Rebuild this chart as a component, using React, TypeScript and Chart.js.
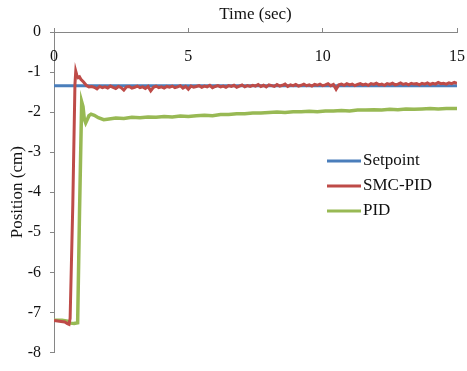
import React, { useEffect, useRef } from "react";
import { Chart, registerables } from "chart.js";

Chart.register(...registerables);

// ---------- data ----------
const xTickStep = 5;
const yTickStep = 1;

const setpointTime = [0, 15];
const setpointPos = [-1.34, -1.34];

const smcTime = [
  0, 0.2, 0.4, 0.5, 0.56, 0.6, 0.7, 0.78, 0.81, 0.85, 0.9, 0.95, 1.0, 1.1, 1.2, 1.3, 1.4,
  1.5, 1.6, 1.7, 1.8, 1.9, 2.0, 2.1, 2.2, 2.3, 2.4,
  2.5, 2.6, 2.7, 2.8, 2.9, 3.0, 3.1, 3.2, 3.3, 3.4,
  3.5, 3.6, 3.7, 3.8, 3.9, 4.0, 4.1, 4.2, 4.3, 4.4,
  4.5, 4.6, 4.7, 4.8, 4.9, 5.0, 5.1, 5.2, 5.3, 5.4,
  5.5, 5.6, 5.7, 5.8, 5.9, 6.0, 6.1, 6.2, 6.3, 6.4,
  6.5, 6.6, 6.7, 6.8, 6.9, 7.0, 7.1, 7.2, 7.3, 7.4,
  7.5, 7.6, 7.7, 7.8, 7.9, 8.0, 8.1, 8.2, 8.3, 8.4,
  8.5, 8.6, 8.7, 8.8, 8.9, 9.0, 9.1, 9.2, 9.3, 9.4,
  9.5, 9.6, 9.7, 9.8, 9.9, 10.0, 10.1, 10.2, 10.3, 10.4,
  10.5, 10.6, 10.7, 10.8, 10.9, 11.0, 11.1, 11.2, 11.3, 11.4,
  11.5, 11.6, 11.7, 11.8, 11.9, 12.0, 12.1, 12.2, 12.3, 12.4,
  12.5, 12.6, 12.7, 12.8, 12.9, 13.0, 13.1, 13.2, 13.3, 13.4,
  13.5, 13.6, 13.7, 13.8, 13.9, 14.0, 14.1, 14.2, 14.3, 14.4,
  14.5, 14.6, 14.7, 14.8, 14.9, 15.0,
];
const smcPos = [
  -7.2, -7.22, -7.24, -7.28, -7.3, -7.15, -4.3, -1.3, -0.98, -1.08, -1.14, -1.12, -1.18, -1.25, -1.33, -1.37, -1.36,
  -1.38, -1.42, -1.36, -1.39, -1.37, -1.40, -1.35, -1.38, -1.41, -1.36,
  -1.39, -1.45, -1.37, -1.36, -1.40, -1.38, -1.35, -1.39, -1.37, -1.41,
  -1.36, -1.47, -1.38, -1.35, -1.39, -1.37, -1.40, -1.36, -1.38, -1.35,
  -1.39, -1.37, -1.34, -1.40, -1.36, -1.43, -1.35, -1.38, -1.36, -1.34,
  -1.38, -1.35, -1.37, -1.33, -1.39, -1.36, -1.34, -1.37, -1.35, -1.38,
  -1.34, -1.36, -1.33, -1.38, -1.35, -1.32, -1.37, -1.34, -1.36, -1.33,
  -1.35, -1.31, -1.36, -1.33, -1.37, -1.32, -1.34, -1.36, -1.31, -1.35,
  -1.33, -1.30, -1.36, -1.32, -1.34, -1.31, -1.35, -1.33, -1.30, -1.34,
  -1.32, -1.35, -1.31, -1.33, -1.30, -1.34, -1.32, -1.29, -1.34, -1.31,
  -1.43, -1.32, -1.30, -1.33, -1.29, -1.32, -1.30, -1.34, -1.31, -1.29,
  -1.32, -1.30, -1.33, -1.29, -1.31, -1.28, -1.32, -1.30, -1.33, -1.29,
  -1.31, -1.28, -1.32, -1.30, -1.27, -1.31, -1.29, -1.32, -1.28, -1.30,
  -1.29, -1.32, -1.28, -1.30, -1.27, -1.31, -1.28, -1.30, -1.26, -1.29,
  -1.28, -1.30, -1.27, -1.29, -1.26, -1.28,
];

const pidTime = [
  0, 0.3, 0.5, 0.62, 0.75, 0.88, 0.95, 1.03, 1.08, 1.13, 1.18, 1.23, 1.3, 1.38, 1.5, 1.65, 1.85,
  2.05, 2.3, 2.6, 2.9, 3.2, 3.5, 3.8, 4.1, 4.4, 4.7, 5.0, 5.3, 5.6, 5.9, 6.2, 6.5, 6.8, 7.1,
  7.4, 7.7, 8.0, 8.3, 8.6, 8.9, 9.2, 9.5, 9.8, 10.1, 10.4, 10.7, 11.0, 11.3, 11.6, 11.9, 12.2,
  12.5, 12.8, 13.1, 13.4, 13.7, 14.0, 14.3, 14.6, 15.0,
];
const pidPos = [
  -7.2, -7.2, -7.22, -7.27, -7.28, -7.26, -4.5, -1.74, -1.86, -2.18, -2.27, -2.2, -2.09, -2.05, -2.08, -2.14, -2.19,
  -2.17, -2.15, -2.16, -2.13, -2.14, -2.12, -2.13, -2.11, -2.12, -2.10, -2.11, -2.09, -2.08, -2.09, -2.06, -2.06, -2.04, -2.04,
  -2.02, -2.02, -2.01, -2.00, -2.01, -1.99, -1.99, -1.98, -1.99, -1.97, -1.97, -1.96, -1.97, -1.95, -1.95, -1.94, -1.95,
  -1.93, -1.94, -1.92, -1.93, -1.92, -1.91, -1.92, -1.91, -1.91,
];

const seriesLabels = ["Setpoint", "SMC-PID", "PID"];
const seriesColors = ["#4a7ebb", "#be4b48", "#98b954"];

const toPoints = (xs: number[], ys: number[]) => xs.map((x, i) => ({ x, y: ys[i] }));

const FONT = "'Liberation Serif', 'Times New Roman', serif";

export default function App() {
  const ref = useRef<HTMLCanvasElement | null>(null);

  useEffect(() => {
    document.body.style.margin = "0";
    const canvas = ref.current;
    if (!canvas) return;

    const xLabelsPlugin = {
      id: "xLabelsInside",
      afterDraw(chart: any) {
        const { ctx, chartArea } = chart;
        const xs = chart.scales.x;
        ctx.save();
        ctx.font = `16px ${FONT}`;
        ctx.fillStyle = "#111";
        ctx.textAlign = "center";
        ctx.textBaseline = "middle";
        xs.ticks.forEach((t: any) => {
          const px = xs.getPixelForValue(t.value);
          ctx.fillText(String(t.value), px, chartArea.top + 25);
        });
        ctx.restore();
      },
    };

    const legendPlugin = {
      id: "innerLegend",
      afterDraw(chart: any) {
        const { ctx } = chart;
        ctx.save();
        ctx.font = `17px ${FONT}`;
        ctx.textAlign = "left";
        ctx.textBaseline = "middle";
        chart.data.datasets.forEach((ds: any, i: number) => {
          const y = 161 + i * 25;
          ctx.strokeStyle = ds.borderColor;
          ctx.lineWidth = 3;
          ctx.beginPath();
          ctx.moveTo(327, y);
          ctx.lineTo(361, y);
          ctx.stroke();
          ctx.fillStyle = "#111";
          ctx.fillText(ds.label, 363, y);
        });
        ctx.restore();
      },
    };

    const chart = new Chart(canvas, {
      type: "line",
      data: {
        datasets: [
          {
            label: seriesLabels[0],
            data: toPoints(setpointTime, setpointPos),
            borderColor: seriesColors[0],
            borderWidth: 3,
            pointRadius: 0,
            order: 3,
          },
          {
            label: seriesLabels[1],
            data: toPoints(smcTime, smcPos),
            borderColor: seriesColors[1],
            borderWidth: 3,
            pointRadius: 0,
            order: 1,
          },
          {
            label: seriesLabels[2],
            data: toPoints(pidTime, pidPos),
            borderColor: seriesColors[2],
            borderWidth: 3.5,
            pointRadius: 0,
            order: 2,
          },
        ],
      },
      options: {
        responsive: false,
        animation: false,
        layout: { padding: { left: 0, top: 0, right: 10, bottom: 16 } },
        plugins: {
          legend: { display: false },
          tooltip: { enabled: false },
        },
        scales: {
          x: {
            type: "linear",
            position: "top",
            min: 0,
            max: 15,
            ticks: { stepSize: xTickStep, display: false },
            grid: { display: true, drawOnChartArea: false, drawTicks: true, tickLength: 4, color: "#868686" },
            border: { display: true, color: "#868686" },
            title: {
              display: true,
              text: "Time (sec)",
              color: "#111",
              font: { family: FONT, size: 17 },
              padding: { top: 4, bottom: 0 },
            },
            afterFit(scale: any) {
              scale.height = 32;
            },
          },
          y: {
            type: "linear",
            min: -8,
            max: 0,
            ticks: {
              stepSize: yTickStep,
              color: "#111",
              padding: 9,
              font: { family: FONT, size: 16 },
            },
            grid: { display: true, drawOnChartArea: false, drawTicks: true, tickLength: 4, color: "#868686" },
            border: { display: true, color: "#868686" },
            title: {
              display: true,
              text: "Position (cm)",
              color: "#111",
              font: { family: FONT, size: 17 },
              padding: { top: 7, bottom: 0 },
            },
            afterFit(scale: any) {
              scale.width = 54;
            },
          },
        },
      },
      plugins: [xLabelsPlugin, legendPlugin],
    });

    return () => chart.destroy();
  }, []);

  return <canvas ref={ref} width={467} height={371} style={{ display: "block" }} />;
}
